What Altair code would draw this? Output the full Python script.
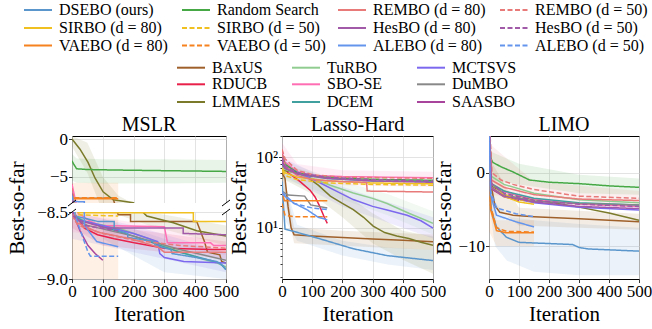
import altair as alt
import pandas as pd

FONT = "Liberation Serif"

# ---------------- legend groups (listed column by column, as in the figure) ----------------
METHODS_A = ["DSEBO (ours)", "SIRBO (d = 80)", "VAEBO (d = 80)",
             "Random Search", "SIRBO (d = 50)", "VAEBO (d = 50)",
             "REMBO (d = 80)", "HesBO (d = 80)", "ALEBO (d = 80)",
             "REMBO (d = 50)", "HesBO (d = 50)", "ALEBO (d = 50)"]
COLORS_A = ["#5a96cc", "#f0c020", "#f5821f",
            "#45a845", "#f0c020", "#f5821f",
            "#e87a7a", "#a05aa8", "#6495ed",
            "#e87a7a", "#a05aa8", "#6495ed"]
DASHED_A = [False, False, False, False, True, True, False, False, False, True, True, True]
METHODS_B = ["BAxUS", "RDUCB", "LMMAES", "TuRBO", "SBO-SE", "DCEM", "MCTSVS", "DuMBO", "SAASBO"]
COLORS_B = ["#a0602a", "#e8204a", "#7a7a2a", "#90cc90", "#ff6eb4", "#40a0a0", "#7b68ee", "#888888", "#a8449c"]

KEYS = ["dsebo", "sirbo80", "vaebo80", "random", "sirbo50", "vaebo50",
        "rembo80", "hesbo80", "alebo80", "rembo50", "hesbo50", "alebo50",
        "baxus", "rducb", "lmmaes", "turbo", "sbose", "dcem", "mctsvs", "dumbo", "saasbo"]
LABELS = METHODS_A + METHODS_B
TITLES = ["MSLR", "Lasso-Hard", "LIMO"]

# ---------------- MSLR (iteration, best-so-far) ----------------
mslr_dsebo = [(0, -7.6), (4, -8.3), (10, -8.53), (83, -8.57), (137, -8.57), (137, -8.63), (181, -8.66),
              (181, -8.69), (267, -8.72), (270, -8.75), (321, -8.78), (325, -8.81), (404, -8.84),
              (469, -8.87), (490, -8.90), (500, -8.93)]
mslr_random = [(0, -2.9), (5, -3.3), (15, -3.95), (50, -4.05), (150, -4.12), (300, -4.2), (500, -4.3)]
mslr_rembo80 = [(0, -6.5), (5, -8.52), (16, -8.58), (83, -8.65), (191, -8.70), (278, -8.76), (300, -8.80), (500, -8.80)]
mslr_rembo50 = [(0, -7.0), (5, -8.55), (20, -8.60), (100, -8.66), (200, -8.71), (350, -8.75), (500, -8.77)]
mslr_sirbo80 = [(0, -7.0), (5, -8.3), (20, -8.505), (394, -8.505), (394, -8.57), (500, -8.57)]
mslr_sirbo50 = [(0, -7.5), (10, -8.52), (150, -8.53)]
mslr_hesbo80 = [(0, -7.0), (5, -8.52), (20, -8.56), (110, -8.62), (361, -8.62), (361, -8.66), (500, -8.67)]
mslr_hesbo50 = [(0, -7.2), (5, -8.53), (40, -8.60), (150, -8.64)]
mslr_vaebo80 = [(0, -6.8), (3, -7.94), (150, -7.94)]
mslr_vaebo50 = [(0, -7.0), (3, -7.80), (150, -7.80)]
mslr_alebo80 = [(0, -7.0), (3, -8.29), (40, -8.33), (40, -8.60), (80, -8.72), (150, -8.76)]
mslr_alebo50 = [(0, -7.5), (10, -8.52), (26, -8.63), (52, -8.80), (60, -8.83), (150, -8.83)]
mslr_baxus = [(0, -6.0), (3, -7.85), (133, -7.85), (150, -8.52), (190, -8.52), (190, -8.57), (405, -8.57),
              (415, -8.63), (430, -8.72), (440, -8.80), (480, -8.82), (486, -8.87), (500, -8.88)]
mslr_turbo = [(0, -7.0), (5, -8.52), (40, -8.57), (150, -8.62), (250, -8.70), (330, -8.78), (420, -8.85),
              (470, -8.88), (500, -8.91)]
mslr_mctsvs = [(0, -7.0), (5, -8.53), (20, -8.56), (100, -8.60), (200, -8.66), (278, -8.72), (285, -8.81),
               (300, -8.84), (363, -8.87), (500, -8.88)]
mslr_rducb = [(0, -6.5), (8, -8.51), (40, -8.62), (83, -8.67), (137, -8.70), (202, -8.73), (300, -8.77),
              (455, -8.78), (500, -8.78)]
mslr_sbose = [(0, -6.0), (20, -8.51), (60, -8.57), (90, -8.60), (300, -8.61), (310, -8.73), (450, -8.73),
              (460, -8.75), (500, -8.75)]
mslr_dumbo = [(0, -7.0), (10, -8.55), (50, -8.60), (200, -8.68), (350, -8.78), (500, -8.86)]
mslr_lmmaes = [(0, 0.0), (26, -1.35), (52, -3.1), (75, -5.2), (101, -7.0), (134, -8.07), (199, -8.46),
               (243, -8.53), (329, -8.58), (405, -8.64), (500, -8.68)]
mslr_dcem = [(0, -7.0), (10, -8.53), (30, -8.56), (200, -8.68), (350, -8.80), (480, -8.88), (500, -8.93)]
mslr_saasbo = [(0, -7.5), (3, -8.51), (26, -8.64), (52, -8.75), (75, -8.81), (100, -8.86)]

# bands (iteration, low, high)
mslr_band_random = [(0, -5.5, -2.0), (15, -5.8, -2.6), (100, -5.9, -2.7), (300, -5.9, -2.7), (500, -5.8, -2.8)]
mslr_band_vaebo80 = [(0, -9.0, -5.8), (150, -9.0, -5.8)]
mslr_band_dsebo = [(100, -8.70, -8.55), (300, -8.95, -8.70), (500, -9.0, -8.80)]
mslr_band_mctsvs = [(0, -8.70, -8.50), (200, -8.80, -8.60), (500, -8.95, -8.80)]
mslr_band_lmmaes = [(0, -1.0, 0.4), (50, -4.5, -0.5), (100, -8.5, -5.0), (150, -8.52, -7.5), (250, -8.6, -8.5),
                    (500, -8.75, -8.6)]
mslr_band_rducb = [(0, -8.62, -8.5), (100, -8.75, -8.6), (500, -8.85, -8.72)]
mslr_band_sbose = [(0, -8.65, -8.51), (500, -8.82, -8.68)]

# ---------------- Lasso-Hard ----------------
lasso_dsebo = [(0, 45), (5, 20), (10, 9.5), (40, 8.8), (127, 6.9), (236, 5.0), (348, 4.0), (420, 3.7), (500, 3.4)]
lasso_random = [(0, 110), (10, 80), (50, 60), (100, 54), (200, 50), (350, 48), (500, 47)]
lasso_rembo80 = [(0, 110), (10, 75), (50, 55), (100, 48), (200, 45), (280, 44), (282, 33), (500, 32)]
lasso_rembo50 = [(0, 130), (10, 95), (50, 65), (104, 56), (200, 52), (350, 51), (500, 50)]
lasso_sirbo80 = [(0, 70), (10, 60), (50, 52), (150, 46), (300, 43), (500, 42)]
lasso_sirbo50 = [(0, 65), (10, 55), (50, 48), (150, 43), (300, 41), (500, 40)]
lasso_hesbo80 = [(0, 90), (10, 70), (50, 58), (150, 50), (300, 46), (500, 44)]
lasso_hesbo50 = [(0, 100), (10, 75), (50, 60), (150, 52), (300, 48), (500, 46)]
lasso_vaebo80 = [(0, 32), (8, 24), (150, 24)]
lasso_vaebo50 = [(0, 22), (10, 15), (40, 14.3), (150, 14.3)]
lasso_alebo80 = [(0, 30), (38, 22.4), (83, 17.9), (120, 14), (150, 12.9)]
lasso_alebo50 = [(0, 32), (40, 22), (100, 19), (150, 18)]
lasso_baxus = [(0, 60), (10, 50), (20, 20), (30, 10), (40, 7.9), (100, 7.6), (200, 7.2), (300, 6.9), (400, 6.6), (500, 6.3)]
lasso_turbo = [(0, 70), (50, 58), (100, 50), (160, 40), (236, 31), (300, 26), (348, 22), (420, 16), (500, 11.5)]
lasso_mctsvs = [(0, 80), (50, 62), (127, 43), (180, 33), (236, 25), (300, 20), (348, 17.8), (414, 15), (460, 12.5), (500, 9.8)]
lasso_rducb = [(0, 80), (20, 60), (38, 53), (60, 45), (93, 34), (110, 27), (125, 20), (140, 14), (150, 11.5)]
lasso_sbose = [(0, 120), (10, 85), (50, 62), (100, 55), (200, 53), (350, 52), (500, 51)]
lasso_dumbo = [(0, 33), (20, 29), (75, 28), (95, 21), (150, 19)]
lasso_lmmaes = [(0, 65), (50, 60), (83, 52), (120, 40), (160, 28), (200, 22), (236, 18), (270, 14), (302, 10.5),
                (340, 8.5), (380, 7.6), (420, 7.0), (460, 6.2), (500, 5.6)]
lasso_dcem = [(0, 80), (10, 70), (50, 58), (150, 50), (300, 46), (500, 45)]
lasso_saasbo = [(0, 90), (10, 70), (50, 58), (100, 54)]

lasso_band_dsebo = [(0, 15, 60), (50, 6.5, 11), (200, 4.0, 6.5), (350, 3.0, 5.2), (500, 2.5, 4.8)]
lasso_band_baxus = [(0, 40, 80), (40, 6, 10), (200, 5.5, 9), (500, 4.8, 8)]
lasso_band_lmmaes = [(0, 50, 80), (100, 30, 60), (200, 14, 32), (300, 6, 16), (400, 3.5, 9), (500, 2.2, 7.5)]
lasso_band_sbose = [(0, 70, 160), (50, 45, 80), (200, 40, 65), (500, 38, 62)]
lasso_band_turbo = [(0, 50, 90), (200, 25, 45), (350, 15, 30), (500, 8, 17)]
lasso_band_mctsvs = [(0, 55, 100), (200, 20, 38), (500, 7, 14)]

# ---------------- LIMO ----------------
limo_dsebo = [(0, 8), (3, -2), (8, -5.1), (25, -7.4), (58, -8.8), (100, -9.5), (279, -9.8), (300, -10.2), (330, -10.4), (500, -10.7)]
limo_random = [(0, 8), (5, 2), (13, 1.4), (40, 0.8), (80, 0.1), (135, -1.0), (200, -1.3), (302, -1.5), (400, -1.8), (500, -2.0)]
limo_rembo80 = [(0, 8), (8, -1), (50, -2), (150, -3), (300, -3.6), (500, -3.8)]
limo_rembo50 = [(0, 8), (10, 0), (40, -1.0), (80, -1.6), (150, -2.3), (300, -3.2), (500, -3.5)]
limo_sirbo80 = [(0, 8), (8, -2), (50, -3.2), (100, -4.0), (150, -4.3)]
limo_sirbo50 = [(0, 8), (8, -2), (50, -3.0), (100, -3.7), (150, -4.0)]
limo_hesbo80 = [(0, 8), (8, -2), (50, -3.2), (150, -4.0), (300, -4.6), (500, -4.9)]
limo_hesbo50 = [(0, 8), (8, -1.5), (50, -2.8), (150, -3.8), (300, -4.3), (500, -4.6)]
limo_vaebo80 = [(0, 8), (5, -5), (25, -7.9), (58, -8.2), (150, -8.2)]
limo_vaebo50 = [(0, 8), (5, -4.5), (25, -7.5), (58, -8.0), (150, -8.1)]
limo_alebo80 = [(0, 8), (5, -3), (25, -5.8), (90, -6.7), (150, -7.4)]
limo_alebo50 = [(0, 8), (5, -2.5), (25, -4.8), (90, -5.6), (150, -6.0)]
limo_baxus = [(0, 3), (8, -2), (20, -4.5), (36, -5.4), (80, -5.8), (150, -6.0), (300, -6.3), (500, -6.7)]
limo_turbo = [(0, 8), (8, -0.5), (50, -1.6), (150, -2.8), (300, -3.7), (500, -4.1)]
limo_mctsvs = [(0, 8), (8, -2), (50, -3.2), (150, -4.1), (300, -4.7), (500, -5.1)]
limo_rducb = [(0, 8), (5, -1.5), (20, -2.5), (60, -3.2), (150, -4.0)]
limo_sbose = [(0, 8), (8, -1.5), (50, -2.6), (150, -3.6), (300, -4.3), (500, -4.6)]
limo_dumbo = [(0, 8), (8, -1.5), (50, -3.0), (150, -3.9), (300, -4.2), (500, -4.4)]
limo_lmmaes = [(0, 8), (5, -1), (13, -2.0), (40, -2.4), (80, -2.9), (135, -3.55), (200, -4.0), (300, -4.7), (400, -5.5), (500, -6.5)]
limo_dcem = [(0, 8), (8, -1.5), (50, -2.5), (150, -3.5), (300, -4.1), (500, -4.4)]
limo_saasbo = [(0, 8), (8, -2.2), (50, -3.3), (100, -3.8)]

limo_band_dsebo = [(0, -4, 3), (20, -10, -4), (60, -12, -6), (150, -13.5, -6.5), (300, -14, -7), (500, -14, -7.5)]
limo_band_random = [(0, -1, 3), (100, -1.6, 1.2), (300, -2.8, -0.3), (500, -3, -0.8)]
limo_band_vaebo80 = [(0, -8, 0), (25, -10, -6.5), (150, -10, -6.5)]
limo_band_baxus = [(0, -4, 2), (100, -7.2, -4.8), (300, -7.5, -5.2), (500, -7.8, -5.6)]
limo_band_rembo50 = [(0, -3, 4), (150, -3.5, -1.2), (500, -4.5, -2.5)]

# ---------------- scales shared by every panel ----------------
color_scale = alt.Scale(domain=METHODS_A, range=COLORS_A)
dash_scale = alt.Scale(domain=METHODS_A, range=[[5, 2.5] if d else [1, 0] for d in DASHED_A])
stroke_scale = alt.Scale(domain=METHODS_B, range=COLORS_B)
fill_scale = alt.Scale(domain=LABELS, range=COLORS_A + COLORS_B)

XAXIS = alt.Axis(values=[0, 100, 200, 300, 400, 500], format="d", labelOverlap=False, labelFlush=False,
                 titleY=41, titleBaseline="alphabetic", titleFontWeight="normal", grid=True)
XSCALE = alt.Scale(domain=[0, 500], nice=False, zero=False)
HEIGHT = 143
dummy = pd.DataFrame({"k": [0]})


def build_tables(prefix):
    rows_a, rows_b, bands = [], [], []
    for key, label in zip(KEYS, LABELS):
        pts = globals().get(f"{prefix}_{key}")
        if pts is not None:
            target = rows_a if label in METHODS_A else rows_b
            for i, (it, v) in enumerate(pts):
                target.append({"method": label, "iter": it, "val": v, "idx": i})
        bd = globals().get(f"{prefix}_band_{key}")
        if bd is not None:
            for it, lo, hi in bd:
                bands.append({"method": label, "iter": it, "lo": lo, "hi": hi})
    return pd.DataFrame(rows_a), pd.DataFrame(rows_b), pd.DataFrame(bands)


def panel(prefix, title, width, yscale, yaxis, extra=()):
    df_a, df_b, df_band = build_tables(prefix)

    def X(f):
        return alt.X(f"{f}:Q", scale=XSCALE, axis=XAXIS, title="Iteration")

    def Y(f):
        return alt.Y(f"{f}:Q", scale=yscale, axis=yaxis, title="Best-so-far")

    band = alt.Chart(df_band).mark_area(opacity=0.12, clip=True).encode(
        x=X("iter"), y=Y("lo"), y2=alt.Y2("hi:Q"),
        fill=alt.Fill("method:N", scale=fill_scale, legend=None))
    lines_a = alt.Chart(df_a).mark_line(strokeWidth=1.5, clip=True).encode(
        x=X("iter"), y=Y("val"),
        color=alt.Color("method:N", scale=color_scale, legend=None),
        strokeDash=alt.StrokeDash("method:N", scale=dash_scale, legend=None),
        order=alt.Order("idx:Q"))
    lines_b = alt.Chart(df_b).mark_line(strokeWidth=1.5, clip=True).encode(
        x=X("iter"), y=Y("val"),
        stroke=alt.Stroke("method:N", scale=stroke_scale, legend=None),
        order=alt.Order("idx:Q"))
    ttl = alt.Chart(dummy).mark_text(font=FONT, fontSize=20, baseline="alphabetic", align="center",
                                     color="black").encode(
        x=alt.value(width / 2), y=alt.value(-5), text=alt.value(title))
    return alt.layer(band, lines_b, lines_a, *extra, ttl)


# ---------------- legend (two blocks, filled column by column, 3 rows each) ----------------
leg_rows = []
for i, m in enumerate(METHODS_A):
    leg_rows.append({"method": m, "slot_x": i // 3, "slot_y": i % 3, "grp": "A"})
for i, m in enumerate(METHODS_B):
    leg_rows.append({"method": m, "slot_x": 4 + i // 3, "slot_y": 3 + i % 3, "grp": "B"})
leg_df = pd.DataFrame(leg_rows)
# slot -> pixel offsets from the first panel's origin (layout only)
LEG_X = alt.Scale(domain=[0, 1, 2, 3, 4, 5, 6], range=[-48, 110, 266, 428, 105, 220, 345])
LEG_Y = alt.Scale(domain=[0, 1, 2, 3, 4, 5], range=[-126, -108, -90.5, -68.3, -51.7, -34])
lx = alt.X("slot_x:Q", scale=LEG_X, axis=None)
ly = alt.Y("slot_y:Q", scale=LEG_Y, axis=None)
leg_sym_a = alt.Chart(leg_df).transform_filter(alt.datum.grp == "A").mark_rule(
    strokeWidth=2, x2Offset=28).encode(
    x=lx, x2=alt.X2("slot_x:Q"), y=ly,
    color=alt.Color("method:N", scale=color_scale, legend=None),
    strokeDash=alt.StrokeDash("method:N", scale=dash_scale, legend=None))
leg_sym_b = alt.Chart(leg_df).transform_filter(alt.datum.grp == "B").mark_rule(
    strokeWidth=2, x2Offset=28).encode(
    x=lx, x2=alt.X2("slot_x:Q"), y=ly,
    stroke=alt.Stroke("method:N", scale=stroke_scale, legend=None))
leg_txt = alt.Chart(leg_df).mark_text(font=FONT, fontSize=16, align="left", baseline="middle",
                                      dx=35, color="black").encode(x=lx, y=ly, text="method:N")
legend = alt.layer(leg_sym_a, leg_sym_b, leg_txt)

# ---------------- panels ----------------
mslr_scale = alt.Scale(domain=[-9.0, -8.5, -8.49, 0.4], range=[143, 76, 67, 0], nice=False, zero=False)
mslr_axis = alt.Axis(values=[0, -5, -8.5, -9], grid=True, titleX=-49, titleBaseline="alphabetic",
                     titleFontWeight="normal",
                     labelExpr="datum.value < -8 ? format(datum.value, '.1f') : format(datum.value, 'd')")
gap = alt.Chart(dummy).mark_rect(color="white").encode(
    x=alt.value(-5), x2=alt.value(159), y=alt.datum(-8.5), y2=alt.datum(-8.49))


def brk(x0, y0):
    return alt.Chart(dummy).mark_rule(color="black", strokeWidth=1).encode(
        x=alt.value(x0 - 4), x2=alt.value(x0 + 4), y=alt.value(y0 + 3), y2=alt.value(y0 - 3))


mslr_core = panel("mslr", TITLES[0], 154, mslr_scale, mslr_axis,
                  extra=(gap, brk(0, 67), brk(0, 76), brk(154, 67), brk(154, 76)))
mslr = alt.layer(mslr_core, legend).resolve_scale(x="independent", y="independent").properties(
    width=154, height=HEIGHT)

major = "datum.value == 10 || datum.value == 100"
lasso_axis = alt.Axis(values=[2, 3, 4, 5, 6, 7, 8, 9, 10, 20, 30, 40, 50, 60, 70, 80, 90, 100, 200],
                      labelExpr="datum.value == 100 ? '10²' : (datum.value == 10 ? '10¹' : '')",
                      tickSize={"condition": {"test": major, "value": 3.5}, "value": 2},
                      gridOpacity={"condition": {"test": major, "value": 1}, "value": 0},
                      grid=True, titleX=-37, titleBaseline="alphabetic", titleFontWeight="normal",
                      labelOverlap=False)
lasso = panel("lasso", TITLES[1], 151, alt.Scale(type="log", domain=[1.86, 200], nice=False),
              lasso_axis).properties(width=151, height=HEIGHT)

limo_axis = alt.Axis(values=[0, -10], format="d", grid=True, titleX=-39, titleBaseline="alphabetic",
                     titleFontWeight="normal")
limo = panel("limo", TITLES[2], 150, alt.Scale(domain=[-14.5, 5], nice=False, zero=False),
             limo_axis).properties(width=150, height=HEIGHT)

chart = alt.hconcat(mslr, lasso, limo, spacing=56, bounds="flush").resolve_scale(
    y="independent"
).properties(
    autosize=alt.AutoSizeParams(type="none"),
    padding={"left": 72, "top": 136, "right": 580, "bottom": 193},
).configure_view(
    stroke="black", strokeWidth=1
).configure_axis(
    domain=False, gridColor="#dcdcdc", gridWidth=0.8, labelFont=FONT, titleFont=FONT,
    labelFontSize=17, titleFontSize=21, titleFontWeight="normal", labelColor="black",
    titleColor="black", tickColor="black", tickSize=3.5, labelPadding=1, tickWidth=0.8
)

chart.save("out.html", embed_options={"renderer": "svg", "actions": False})
